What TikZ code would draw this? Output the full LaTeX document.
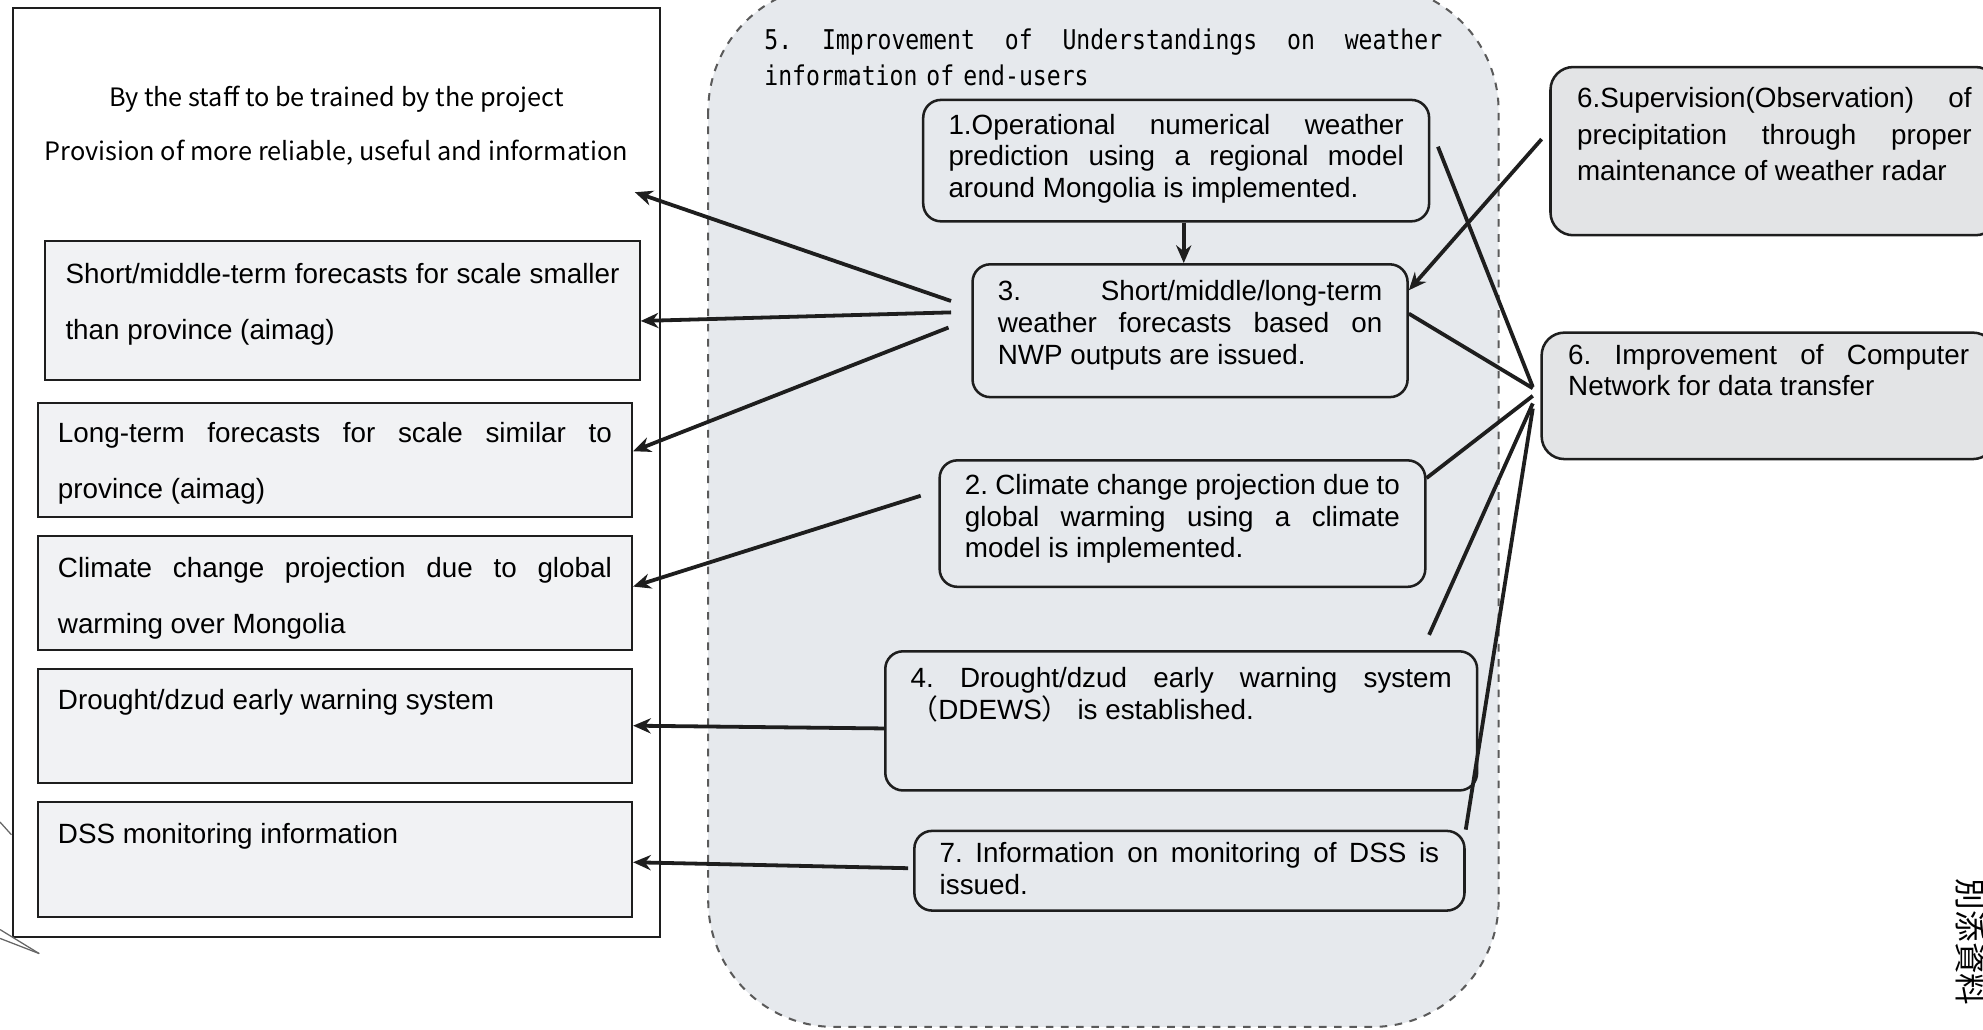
\documentclass[tikz,border=0pt]{standalone}
\usepackage{fontspec}
\setmainfont{Liberation Sans}
\newfontfamily\cjk{Noto Sans CJK JP}
\newfontfamily\monogothic[FakeStretch=0.85]{DejaVu Sans Mono}
\usetikzlibrary{arrows.meta}
\usepackage{xcolor}
\definecolor{Ink}{HTML}{1E1E1E}
\definecolor{RegionGray}{HTML}{E6E9ED}
\definecolor{PaleGray}{HTML}{F1F2F4}
\definecolor{BoxGray}{HTML}{E3E4E6}
\definecolor{DashGray}{HTML}{5A5A5A}
\hyphenpenalty=10000
\exhyphenpenalty=10000
\frenchspacing
\tikzset{
  outerbox/.style={draw=Ink, line width=0.8pt},
  region/.style={draw=DashGray, dashed, fill=RegionGray, line width=0.8pt, rounded corners=50pt},
  headline/.style={font=\cjk\fontsize{10}{12}\selectfont, anchor=base},
  leftbox/.style={draw=Ink, fill=PaleGray, line width=0.8pt, anchor=north west, text width=219pt, align=justify, inner xsep=8pt, inner ysep=3pt, font=\fontsize{11}{22.25}\selectfont},
  taskbox/.style={draw=Ink, rounded corners=7pt, line width=1pt, anchor=north west, align=justify, inner xsep=10pt, inner ysep=3pt, font=\fontsize{11}{12.5}\selectfont},
  inputbox/.style={taskbox, fill=BoxGray, rounded corners=9pt, inner xsep=10.5pt},
  arr/.style={-{Stealth[length=7pt,width=6pt]}, line width=1.5pt, draw=Ink},
  link/.style={line width=1.5pt, draw=Ink},
  scanline/.style={draw=black!60, line width=0.5pt}
}

\begin{document}
\begin{tikzpicture}[x=0.5pt,y=-0.5pt]
\useasboundingbox (0,0) rectangle (1568,814);

% outputs
\draw[outerbox] (10,6) rectangle (522,741);
\node[headline] (staff) at (266,84) {By the staff to be trained by the project};
\node[headline] (provision) at (266,127) {Provision of more reliable, useful and information};
\coordinate (provtip) at (502,152);

\node[leftbox, text height=13.5pt, text depth=35.5pt] (A) at (35,190) {Short/middle-term forecasts for scale smaller\linebreak than province (aimag)};
\node[leftbox, text height=12.5pt, text depth=26.5pt] (B) at (29,318) {Long-term forecasts for scale similar to\linebreak province (aimag)};
\node[leftbox, text height=13.5pt, text depth=25.5pt] (C) at (29,423) {Climate change projection due to global\linebreak warming over Mongolia};
\node[leftbox, text height=13pt, text depth=26pt] (D) at (29,528) {Drought/dzud early warning system};
\node[leftbox, text height=13.5pt, text depth=26pt] (E) at (29,633) {DSS monitoring information};

% activities
\draw[region] (560,-12) rectangle (1185,812);
\node[anchor=north west, inner sep=0pt, text width=268pt, align=left, text height=8pt, font=\monogothic\fontsize{10.75}{14}\selectfont] (title) at (604,23)
  {5.\hfill Improvement\hfill of\hfill Understandings\hfill on\hfill weather\\information of end-users};

\node[taskbox, text width=180pt, text height=10.5pt, text depth=31.5pt] (N1) at (729,78) {1.Operational numerical weather\linebreak prediction using a regional model\linebreak around Mongolia is implemented.};
\node[taskbox, text width=152pt, text height=11.5pt, text depth=35pt] (N3) at (768,208) {3. Short/middle/long-term\linebreak weather forecasts based on\linebreak NWP outputs are issued.};
\node[taskbox, text width=172pt, text height=10.5pt, text depth=33.5pt] (N2) at (742,363) {2. Climate change projection due to\linebreak global warming using a climate\linebreak model is implemented.};
\node[taskbox, text width=214pt, text height=11.5pt, text depth=37.5pt] (N4) at (699,514) {4. Drought/dzud early warning system\linebreak {\cjk （}DDEWS{\cjk ）} is established.};
\node[taskbox, text width=197.5pt, text height=9.5pt, text depth=16pt] (N7) at (722,656) {7. Information on monitoring of DSS is\linebreak issued.};

% inputs
\node[inputbox, text width=156pt, text height=13pt, text depth=47.5pt, font=\fontsize{11}{14.5}\selectfont] (S6a) at (1225,52) {6.Supervision(Observation) of\linebreak precipitation through proper\linebreak maintenance of weather radar};
\node[inputbox, text width=158.5pt, text height=9.5pt, text depth=34.5pt] (S6b) at (1218,262) {6. Improvement of Computer\linebreak Network for data transfer};
\coordinate (hub) at ([xshift=-3pt]S6b.west);

% connectors
\draw[arr] ([xshift=3pt]N1.south) -- ([xshift=3pt]N1.south |- N3.north);
\draw[arr] ([shift={(-8pt,11.75pt)}]N3.west) -- (provtip);
\draw[arr] ([shift={(-8pt,7.25pt)}]N3.west) -- ([yshift=-4pt]A.east);
\draw[arr] ([shift={(-9pt,1.25pt)}]N3.west) -- ([yshift=3.5pt]B.east);
\draw[arr] ([shift={(-7pt,11pt)}]N2.west) -- ([yshift=2.5pt]C.east);
\draw[arr] ([yshift=-3pt]N4.west) -- (D.east);
\draw[arr] ([shift={(-2pt,1pt)}]N7.west) -- ([yshift=-1.25pt]E.east);
\draw[arr] ([shift={(-3pt,4.75pt)}]S6a.west) -- ([yshift=16pt]N3.east);

\draw[link] ([shift={(3pt,5.5pt)}]N1.east) -- ([yshift=3.5pt]hub);
\draw[link] ([yshift=6.75pt]N3.east) -- ([yshift=3pt]hub);
\draw[link] ([yshift=-7.5pt]N2.north east) -- (hub);
\draw[link] ([shift={(-19.5pt,6pt)}]N4.north east) -- ([yshift=-3pt]hub);
\draw[link] (N7.north east) -- ([yshift=-5pt]hub);

% margin
\node[font=\cjk\fontsize{12.5}{12.5}\selectfont, rotate=-90] (annex) at (1558,745) {別添資料};
\draw[scanline] (0,650) -- (9,660);
\draw[scanline] (0,735) -- (31,754);
\draw[scanline] (0,742) -- (31,754);
\end{tikzpicture}
\end{document}
